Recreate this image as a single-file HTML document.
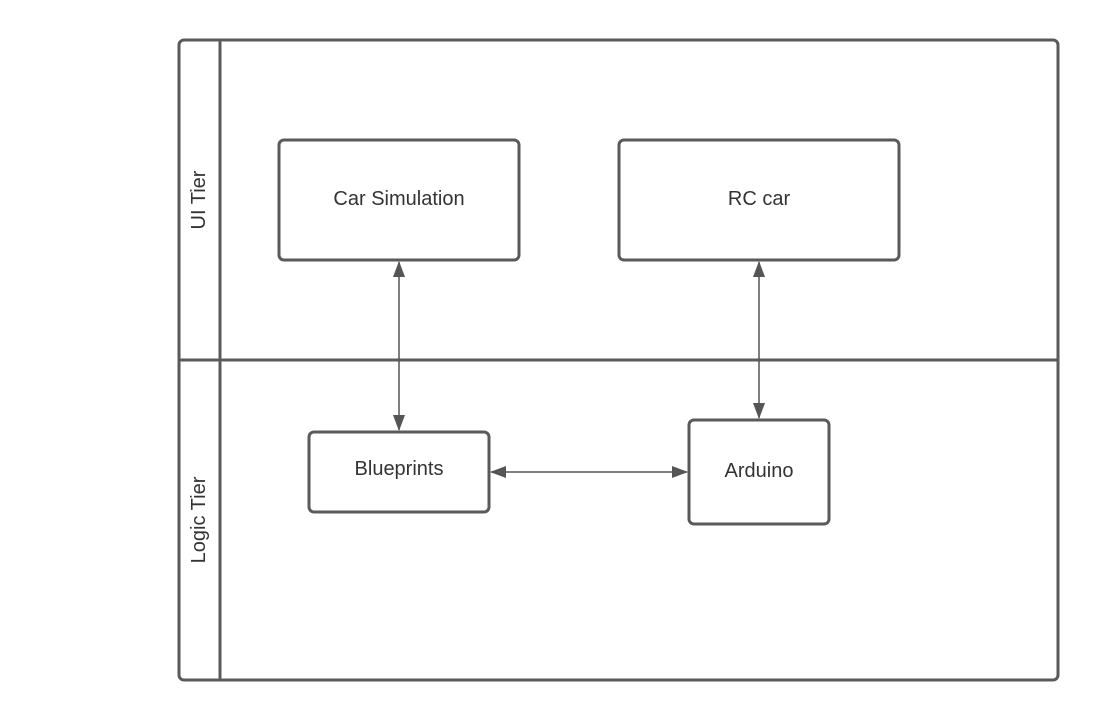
<!DOCTYPE html>
<html><head><style>
html,body{margin:0;padding:0;background:#fff;}
</style></head><body>
<svg width="1099" height="720" xmlns="http://www.w3.org/2000/svg" font-family="Liberation Sans, sans-serif">
<defs>
<marker id="a" markerWidth="16" markerHeight="12" refX="15" refY="6" orient="auto-start-reverse" markerUnits="userSpaceOnUse">
<path d="M0,0 L16,6 L0,12 z" fill="#555"/>
</marker>
</defs>
<g fill="none" stroke="#5a5a5a" stroke-width="3">
<rect x="179" y="40" width="879" height="640" rx="5"/>
<line x1="220" y1="40" x2="220" y2="680"/>
<line x1="179" y1="360" x2="1058" y2="360"/>
<rect x="279" y="140" width="240" height="120" rx="5"/>
<rect x="619" y="140" width="280" height="120" rx="5"/>
<rect x="309" y="432" width="180" height="80" rx="5"/>
<rect x="689" y="420" width="140" height="104" rx="5"/>
</g>
<g stroke="#555" stroke-width="1.5">
<line x1="399" y1="262" x2="399" y2="430" marker-start="url(#a)" marker-end="url(#a)"/>
<line x1="759" y1="262" x2="759" y2="418" marker-start="url(#a)" marker-end="url(#a)"/>
<line x1="491" y1="472" x2="687" y2="472" marker-start="url(#a)" marker-end="url(#a)"/>
</g>
<g fill="#333" font-size="20" text-anchor="middle">
<text x="399" y="205">Car Simulation</text>
<text x="759" y="205">RC car</text>
<text x="399" y="475">Blueprints</text>
<text x="759" y="477">Arduino</text>
<text transform="translate(205,200) rotate(-90)">UI Tier</text>
<text transform="translate(205,520) rotate(-90)">Logic Tier</text>
</g>
</svg>
</body></html>
